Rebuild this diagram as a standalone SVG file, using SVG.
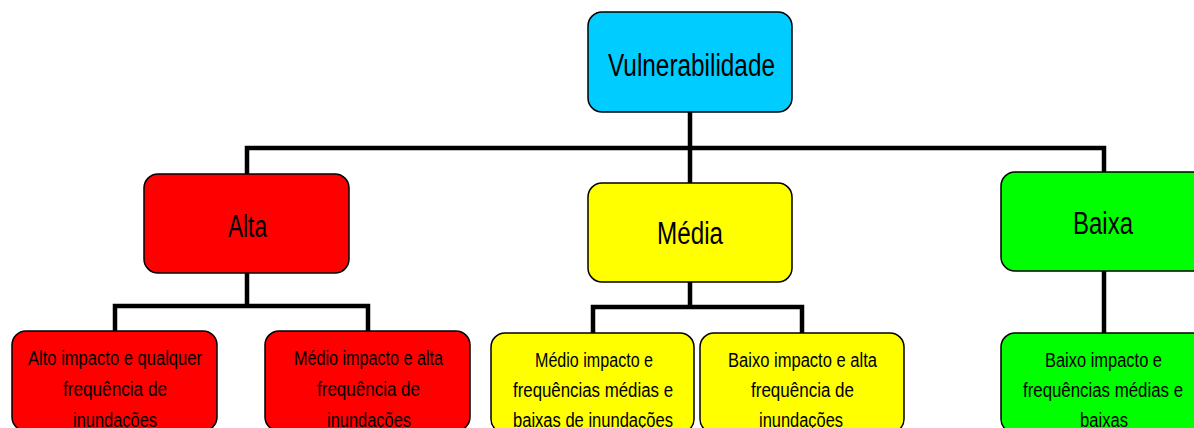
<svg xmlns="http://www.w3.org/2000/svg" width="1194" height="428" viewBox="0 0 1194 428">
<style>
.box{stroke:#000;stroke-width:1.5}
.big{font-family:"Liberation Sans",Arial,sans-serif;font-size:31px;text-anchor:middle;fill:#000}
.sm{font-family:"Liberation Sans",Arial,sans-serif;font-size:20px;text-anchor:middle;fill:#000}
.con{stroke:#000;stroke-width:4.5;fill:none;stroke-linecap:butt}
</style>
<rect width="1194" height="428" fill="#fff"/>
<g id="connectors">
<path class="con" d="M690,112 V183 M247,174 V148 H1104 V172"/>
<path class="con" d="M247,273 V306 M115,331 V306 H368 V331"/>
<path class="con" d="M690,282 V307 M593,333 V307 H802 V333"/>
<path class="con" d="M1104,271 V333"/>
</g>
<g id="vulnerabilidade">
<rect class="box" x="588" y="12" width="204" height="100" rx="14" fill="#00CCFF"/>
<text class="big" x="691.5" y="75.5" font-size="33" textLength="167" lengthAdjust="spacingAndGlyphs">Vulnerabilidade</text>
</g>
<g id="alta">
<rect class="box" x="144" y="174" width="205" height="99" rx="14" fill="#FF0000"/>
<text class="big" x="247.5" y="237" textLength="39" lengthAdjust="spacingAndGlyphs">Alta</text>
</g>
<g id="media">
<rect class="box" x="588" y="183" width="204" height="99" rx="14" fill="#FFFF00"/>
<text class="big" x="690" y="244" textLength="66" lengthAdjust="spacingAndGlyphs">Média</text>
</g>
<g id="baixa">
<rect class="box" x="1001" y="172" width="206" height="99" rx="14" fill="#00FF00"/>
<text class="big" x="1103" y="234" textLength="60" lengthAdjust="spacingAndGlyphs">Baixa</text>
</g>
<g id="alta1">
<rect class="box" x="12" y="331" width="205" height="100" rx="14" fill="#FF0000"/>
<text class="sm" x="115" y="365" textLength="174" lengthAdjust="spacingAndGlyphs">Alto impacto e qualquer</text>
<text class="sm" x="115" y="396" textLength="104" lengthAdjust="spacingAndGlyphs">frequência de</text>
<text class="sm" x="115" y="427" textLength="84" lengthAdjust="spacingAndGlyphs">inundações</text>
</g>
<g id="alta2">
<rect class="box" x="265" y="331" width="205" height="100" rx="14" fill="#FF0000"/>
<text class="sm" x="368.5" y="365" textLength="149" lengthAdjust="spacingAndGlyphs">Médio impacto e alta</text>
<text class="sm" x="368.5" y="396" textLength="103" lengthAdjust="spacingAndGlyphs">frequência de</text>
<text class="sm" x="369" y="427" textLength="84" lengthAdjust="spacingAndGlyphs">inundações</text>
</g>
<g id="media1">
<rect class="box" x="491" y="333" width="203" height="100" rx="14" fill="#FFFF00"/>
<text class="sm" x="594" y="367" textLength="118" lengthAdjust="spacingAndGlyphs">Médio impacto e</text>
<text class="sm" x="593" y="397" textLength="160" lengthAdjust="spacingAndGlyphs">frequências médias e</text>
<text class="sm" x="593" y="427" textLength="160" lengthAdjust="spacingAndGlyphs">baixas de inundações</text>
</g>
<g id="media2">
<rect class="box" x="700" y="333" width="204" height="100" rx="14" fill="#FFFF00"/>
<text class="sm" x="802.5" y="367" textLength="149" lengthAdjust="spacingAndGlyphs">Baixo impacto e alta</text>
<text class="sm" x="802.5" y="397" textLength="103" lengthAdjust="spacingAndGlyphs">frequência de</text>
<text class="sm" x="801" y="427" textLength="84" lengthAdjust="spacingAndGlyphs">inundações</text>
</g>
<g id="baixa1">
<rect class="box" x="1001" y="333" width="206" height="100" rx="14" fill="#00FF00"/>
<text class="sm" x="1103.5" y="367" textLength="117" lengthAdjust="spacingAndGlyphs">Baixo impacto e</text>
<text class="sm" x="1103" y="397" textLength="160" lengthAdjust="spacingAndGlyphs">frequências médias e</text>
<text class="sm" x="1104" y="427" textLength="48" lengthAdjust="spacingAndGlyphs">baixas</text>
</g>
</svg>
